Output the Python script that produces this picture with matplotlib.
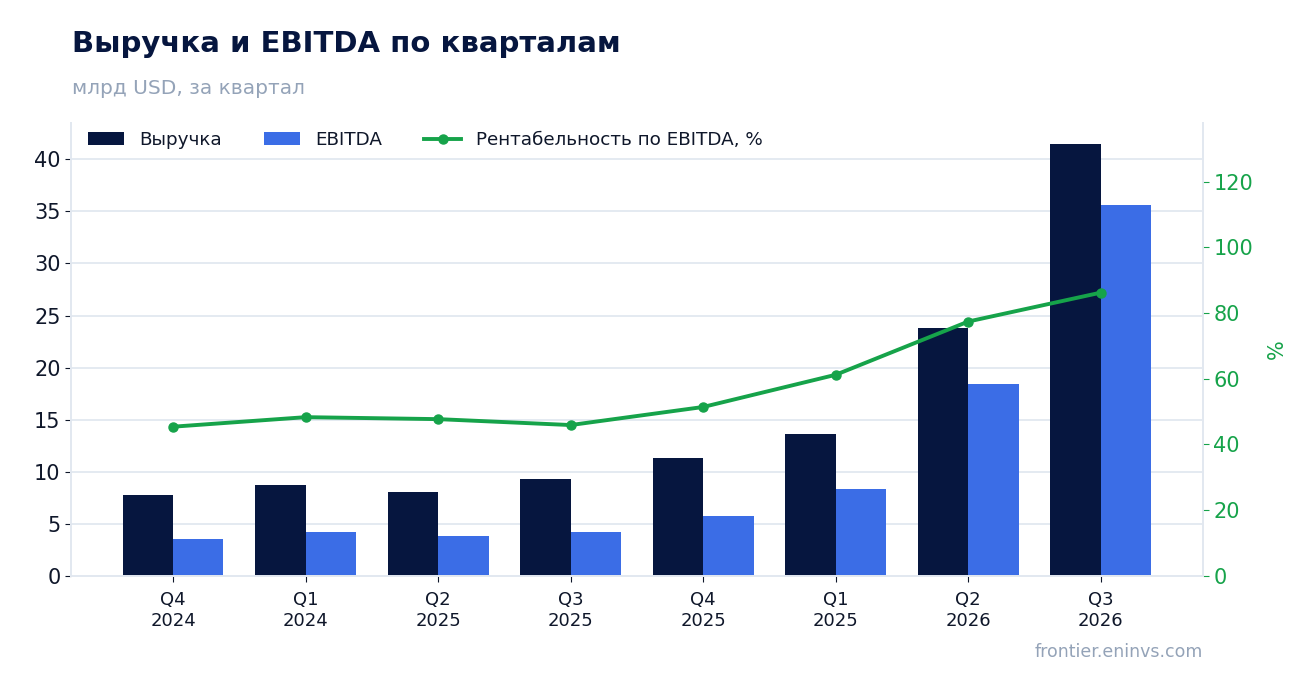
import matplotlib
matplotlib.use('Agg')
import matplotlib.pyplot as plt
import numpy as np

# data
quarters = ['Q4\n2024', 'Q1\n2024', 'Q2\n2025', 'Q3\n2025', 'Q4\n2025', 'Q1\n2025', 'Q2\n2026', 'Q3\n2026']
revenue = [7.8, 8.75, 8.1, 9.35, 11.35, 13.65, 23.85, 41.45]
ebitda = [3.55, 4.2, 3.85, 4.2, 5.75, 8.35, 18.45, 35.65]
margin = [45.4, 48.3, 47.7, 45.9, 51.4, 61.2, 77.4, 86.2]

navy = '#06163f'
blue = '#3b6de6'
green = '#16a34a'
grey = '#94a3b8'
spine = '#e2e8f0'
dark = '#0f172a'

plt.rcParams['font.family'] = ['DejaVu Sans']

fig = plt.figure(figsize=(13.16, 6.93), dpi=100)
ax = fig.add_axes([0.054, 0.169, 0.86, 0.654])
ax2 = ax.twinx()

x = np.arange(len(quarters))
w = 0.38
ax.bar(x - w / 2, revenue, w, color=navy, label='Выручка', zorder=2)
ax.bar(x + w / 2, ebitda, w, color=blue, label='EBITDA', zorder=2)
ax2.plot(x, margin, color=green, lw=2.8, marker='o', ms=6.5,
         label='Рентабельность по EBITDA, %', zorder=3)

ax.set_xlim(-0.77, len(quarters) - 1 + 0.77)
ax.set_ylim(0, max(revenue) * 1.05)
ax2.set_ylim(0, max(margin) * 1.6)
ax.set_yticks(np.arange(0, 45, 5))
ax2.set_yticks(np.arange(0, 140, 20))
ax.set_xticks(x)
ax.set_xticklabels(quarters, fontsize=13, color=dark)

ax.grid(axis='y', color=spine, lw=1.3, zorder=0)
ax.set_axisbelow(True)
for a in (ax, ax2):
    a.spines['top'].set_visible(False)
    for s in ('left', 'right', 'bottom'):
        a.spines[s].set_color(spine)
        a.spines[s].set_linewidth(1.3)
ax.tick_params(axis='y', labelsize=15, colors=dark, length=4)
ax.tick_params(axis='x', length=4, color=dark, pad=7)
ax2.tick_params(axis='y', labelsize=15, colors=green, length=4)
ax2.set_ylabel('%', color=green, fontsize=15, labelpad=10)

h1, l1 = ax.get_legend_handles_labels()
h2, l2 = ax2.get_legend_handles_labels()
ax2.legend(h1 + h2, l1 + l2, loc='upper left', ncol=3, frameon=False,
           fontsize=13.2, bbox_to_anchor=(0.0, 1.018), columnspacing=2.3,
           handlelength=2.0, labelcolor=dark)

fig.text(0.0547, 0.936, 'Выручка и EBITDA по кварталам', fontsize=21,
         fontweight='bold', color=navy, va='center')
fig.text(0.0547, 0.873, 'млрд USD, за квартал', fontsize=14.5,
         color=grey, va='center')
fig.text(0.914, 0.059, 'frontier.eninvs.com', fontsize=12.5,
         color=grey, ha='right', va='center')

fig.savefig('out.png', dpi=100)
